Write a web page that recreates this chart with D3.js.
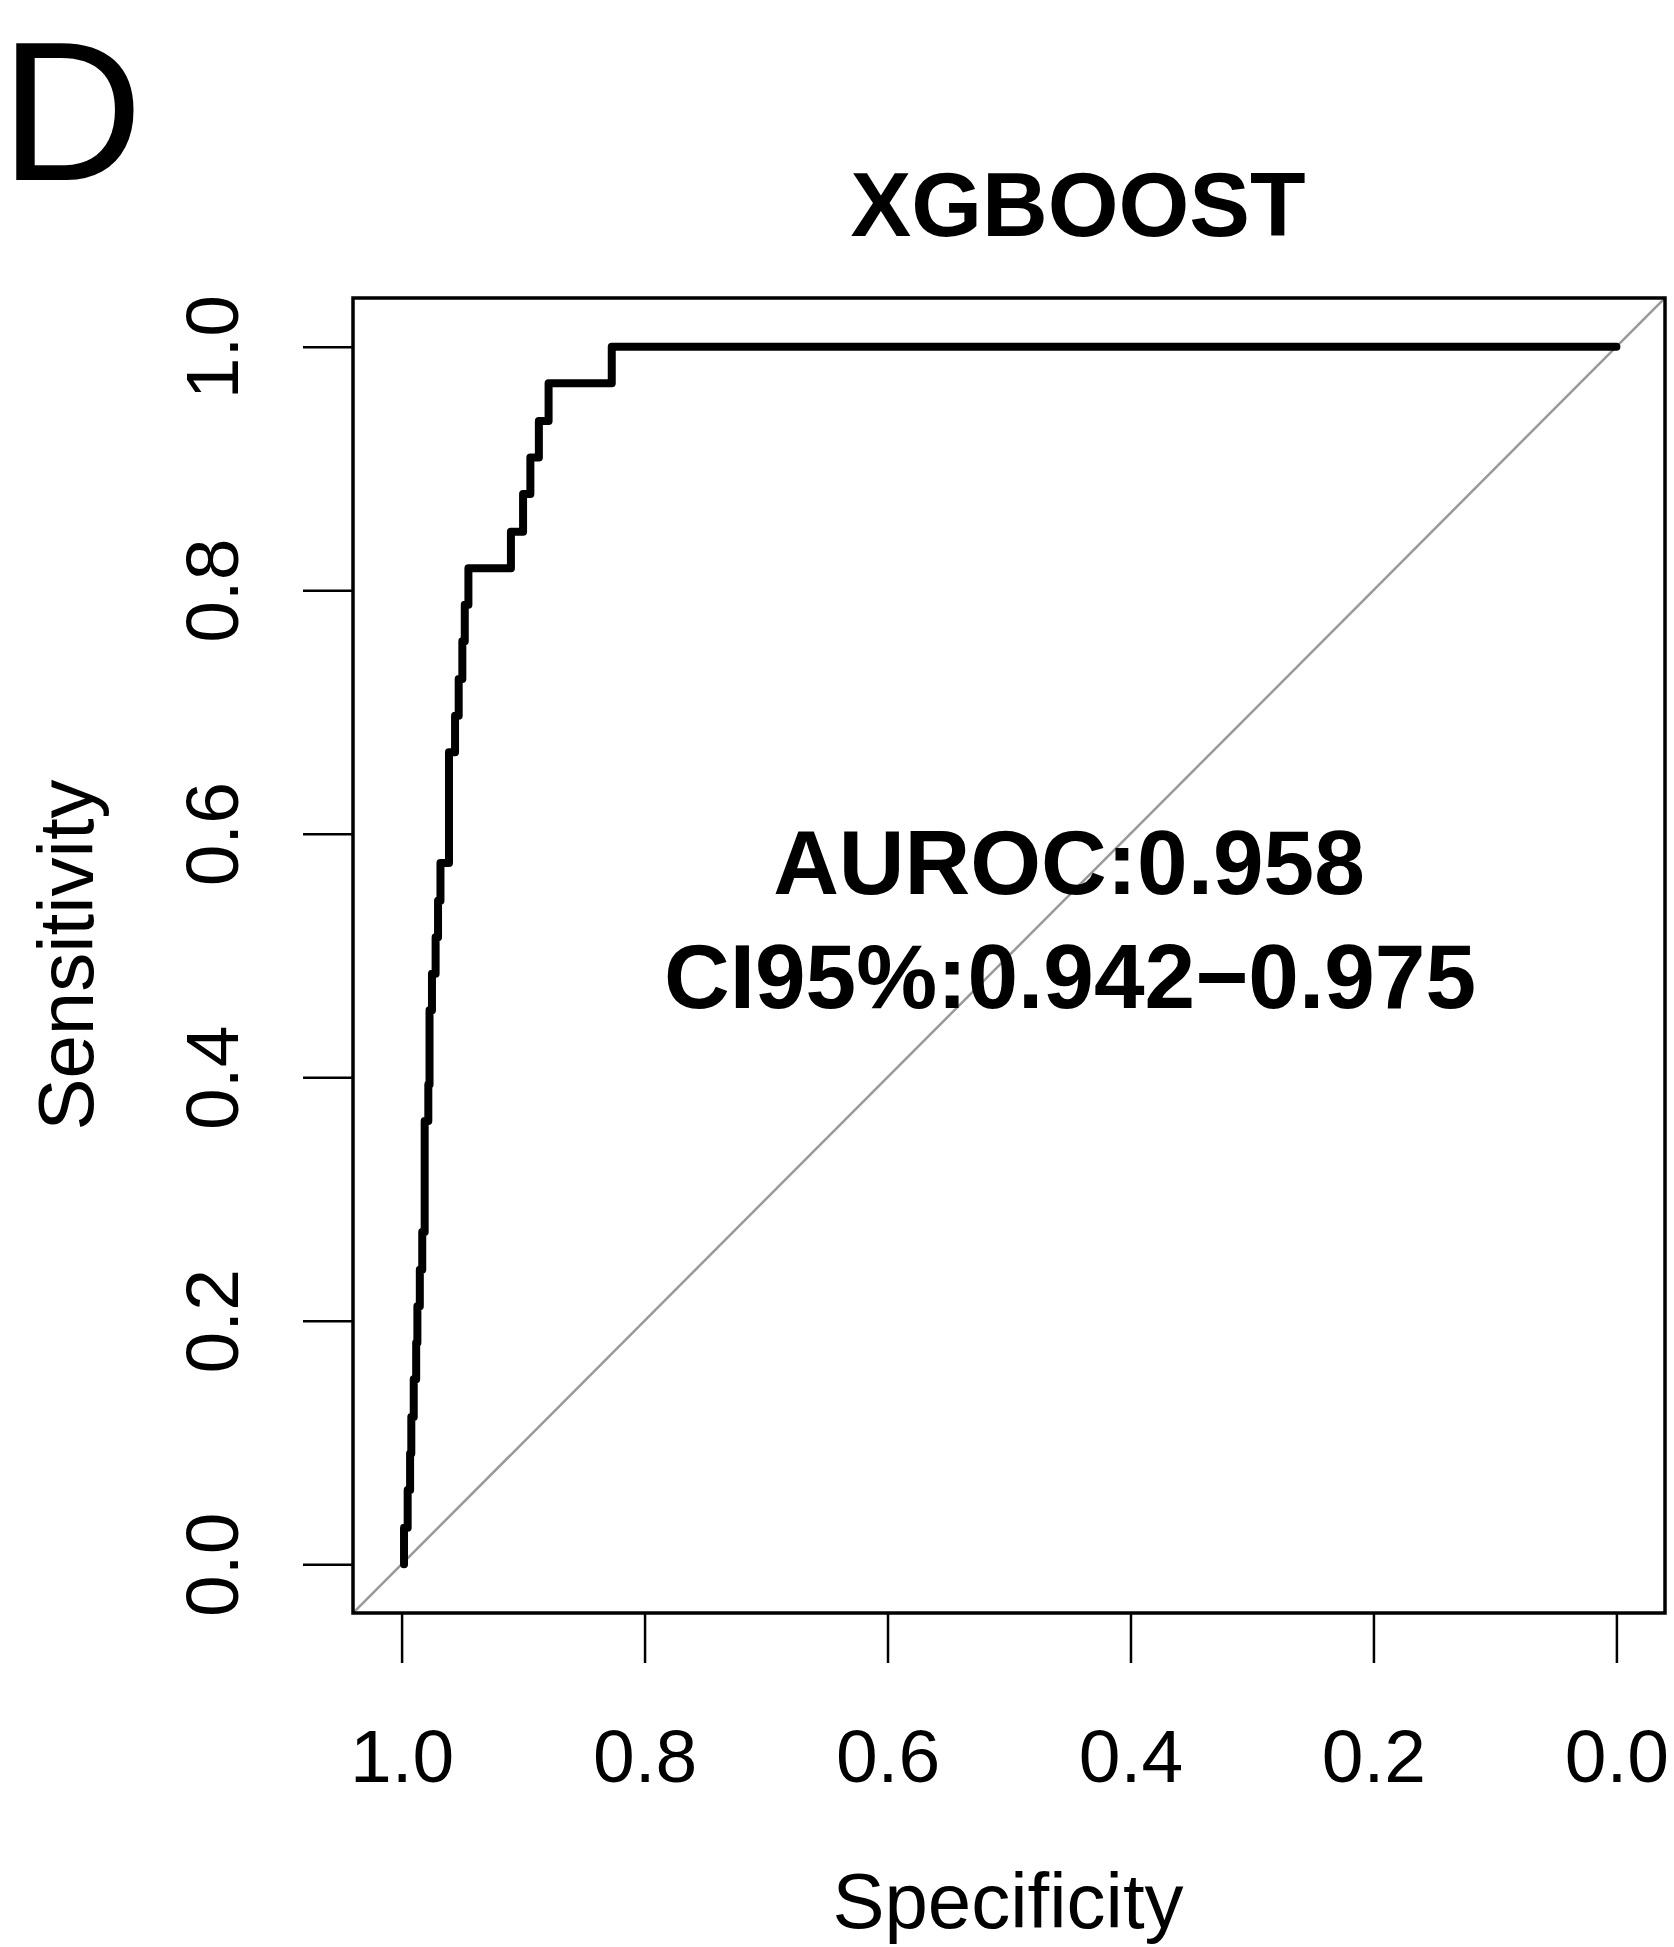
<!DOCTYPE html>
<meta charset="utf-8">
<style>

body {
  margin: 0;
  background: #fff;
}

svg text {
  font-family: "Liberation Sans", Arial, Helvetica, sans-serif;
  fill: #000;
}

.axis path, .axis line {
  stroke: #000;
  stroke-width: 2.5px;
}

</style>
<svg width="1674" height="1947"></svg>
<script src="https://d3js.org/d3.v7.min.js"></script>
<script>

// ROC points (specificity, sensitivity)
var specificity = [0.998, 0.995, 0.993, 0.992, 0.990, 0.988, 0.987, 0.985, 0.983, 0.981,
                   0.981, 0.981, 0.978, 0.977, 0.977, 0.975, 0.972, 0.970, 0.968, 0.961,
                   0.961, 0.961, 0.956, 0.953, 0.950, 0.948, 0.945, 0.910, 0.900, 0.894,
                   0.887, 0.879, 0.827, 0.000];
var sensitivity = [0.000, 0.030, 0.061, 0.091, 0.121, 0.152, 0.182, 0.212, 0.242, 0.273,
                   0.303, 0.333, 0.364, 0.394, 0.424, 0.455, 0.485, 0.515, 0.545, 0.576,
                   0.606, 0.636, 0.667, 0.697, 0.727, 0.758, 0.788, 0.818, 0.848, 0.879,
                   0.909, 0.939, 0.970, 1.000];

var ticks = [0, 0.2, 0.4, 0.6, 0.8, 1.0];
var title = "XGBOOST";
var aucLabel = "AUROC:0.958";
var ciLabel = "CI95%:0.942\u22120.975";

var svg = d3.select("svg");

var plotLeft = 353, plotRight = 1665, plotTop = 298, plotBottom = 1613;

// R style: axes extended 4% past the data range
var x = d3.scaleLinear().domain([1.04, -0.04]).range([plotLeft, plotRight]);
var y = d3.scaleLinear().domain([-0.04, 1.04]).range([plotBottom, plotTop]);

var points = specificity.map(function(s, i) { return {spec: s, sens: sensitivity[i]}; });

// chance line, clipped to the box
svg.append("clipPath").attr("id", "box")
  .append("rect")
    .attr("x", plotLeft).attr("y", plotTop)
    .attr("width", plotRight - plotLeft).attr("height", plotBottom - plotTop);

svg.append("line")
    .attr("clip-path", "url(#box)")
    .attr("x1", x(1.04)).attr("y1", y(-0.04))
    .attr("x2", x(-0.04)).attr("y2", y(1.04))
    .attr("stroke", "#999")
    .attr("stroke-width", 2.5);

var line = d3.line()
    .x(function(d) { return x(d.spec); })
    .y(function(d) { return y(d.sens); })
    .curve(d3.curveStepBefore);

svg.append("path")
    .datum(points)
    .attr("d", line)
    .attr("fill", "none")
    .attr("stroke", "#000")
    .attr("stroke-width", 8)
    .attr("stroke-linejoin", "round")
    .attr("stroke-linecap", "round");

svg.append("rect")
    .attr("x", plotLeft).attr("y", plotTop)
    .attr("width", plotRight - plotLeft).attr("height", plotBottom - plotTop)
    .attr("fill", "none")
    .attr("stroke", "#000")
    .attr("stroke-width", 3.5);

// axes
var xAxis = svg.append("g")
    .attr("class", "axis")
    .attr("transform", "translate(0," + plotBottom + ")")
    .call(d3.axisBottom(x).tickValues(ticks).tickFormat(d3.format(".1f")).tickSize(50).tickSizeOuter(0));
xAxis.select(".domain").remove();
xAxis.selectAll("text")
    .attr("y", 169)
    .attr("dy", 0)
    .style("font-size", "75px");

var yAxis = svg.append("g")
    .attr("class", "axis")
    .attr("transform", "translate(" + plotLeft + ",0)")
    .call(d3.axisLeft(y).tickValues(ticks).tickFormat(d3.format(".1f")).tickSize(50).tickSizeOuter(0));
yAxis.select(".domain").remove();
yAxis.selectAll("text")
    .attr("transform", "rotate(-90)")
    .attr("x", 0)
    .attr("y", -115)
    .attr("dy", 0)
    .attr("text-anchor", "middle")
    .style("font-size", "75px");

// labels
svg.append("text")
    .attr("x", 0).attr("y", 180)
    .style("font-size", "198px")
    .text("D");

svg.append("text")
    .attr("x", 1078).attr("y", 236)
    .attr("text-anchor", "middle")
    .style("font-size", "91px")
    .style("font-weight", "bold")
    .text(title);

svg.append("text")
    .attr("x", 1069).attr("y", 894)
    .attr("text-anchor", "middle")
    .style("font-size", "91px")
    .style("font-weight", "bold")
    .text(aucLabel);

svg.append("text")
    .attr("x", 1070).attr("y", 1008)
    .attr("text-anchor", "middle")
    .style("font-size", "91px")
    .style("font-weight", "bold")
    .text(ciLabel);

svg.append("text")
    .attr("x", 1008).attr("y", 1928)
    .attr("text-anchor", "middle")
    .style("font-size", "78px")
    .text("Specificity");

svg.append("text")
    .attr("transform", "translate(93,955) rotate(-90)")
    .attr("text-anchor", "middle")
    .style("font-size", "78px")
    .text("Sensitivity");

</script>
